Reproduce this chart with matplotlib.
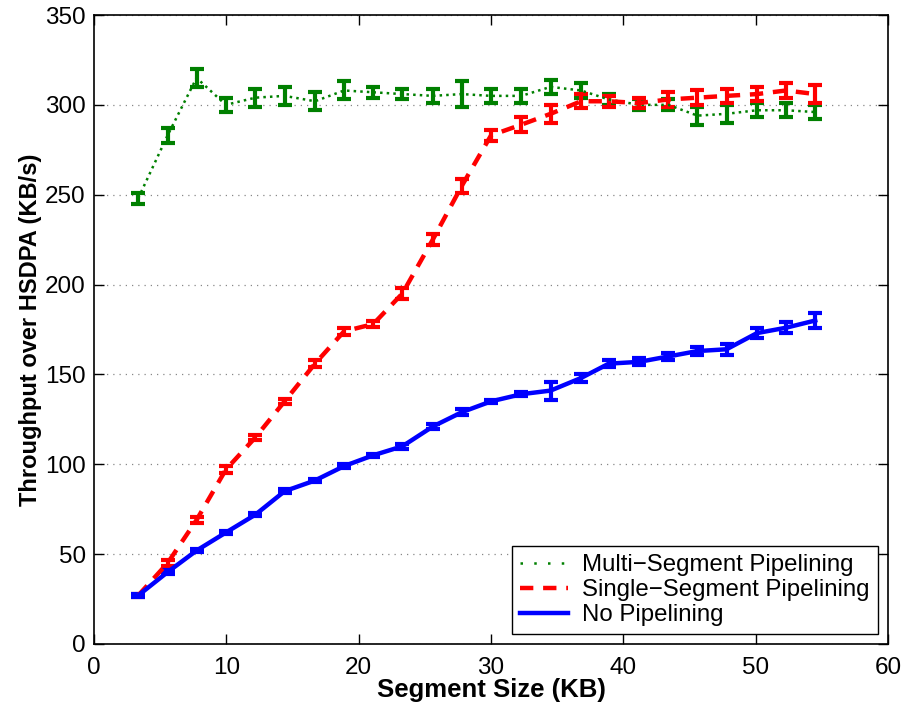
import matplotlib
matplotlib.use("Agg")
import matplotlib.pyplot as plt
from matplotlib.lines import Line2D

plt.rcParams['font.family'] = ['Liberation Sans', 'DejaVu Sans']

segment_kb = [3.34, 5.56, 7.75, 9.96, 12.2, 14.4, 16.7, 18.9, 21.1, 23.3, 25.6, 27.8,
              30.0, 32.3, 34.5, 36.8, 38.9, 41.2, 43.4, 45.6, 47.8, 50.1, 52.3, 54.5]

multi_vals = [248, 283, 315, 300, 304, 305, 302, 308, 307, 306, 305, 306,
              305, 305, 310, 308, 303, 300, 300, 294, 295, 297, 297, 296]
multi_err = [3, 4, 5, 4, 5, 5, 5, 5, 3, 3, 4, 7,
             4, 4, 4, 4, 3, 3, 3, 5, 5, 4, 4, 4]

single_vals = [27, 45, 69, 97, 115, 135, 156, 174, 178, 195, 225, 255,
               283, 289, 295, 302, 302, 301, 303, 304, 305, 306, 308, 306]
single_err = [1, 1.5, 1.5, 2, 1.5, 1.5, 2, 2, 1.5, 3, 3, 4,
              3, 4, 5, 4, 3, 3, 4, 4, 4, 4, 4, 5]

none_vals = [27, 40, 52, 62, 72, 85, 91, 99, 105, 110, 121, 129,
             135, 139, 141, 148, 156, 157, 160, 163, 164, 173, 176, 180]
none_err = [1, 1, 1, 1, 1, 1, 1, 1, 1, 1.5, 1.5, 1.5,
            1, 1, 5, 2, 2, 2, 2, 2, 3, 3, 3, 4]

labels = ['Multi\u2212Segment Pipelining', 'Single\u2212Segment Pipelining', 'No Pipelining']

fig = plt.figure(figsize=(9.07, 7.13), dpi=100)
ax = fig.add_axes([94/907, 1-644/713, 794/907, 629/713])

green, red, blue = '#008000', '#ff0000', '#0000ff'
ax.errorbar(segment_kb, multi_vals, yerr=multi_err, color=green, ls=':', lw=1.8,
            elinewidth=3, capsize=5, capthick=3)
ax.errorbar(segment_kb, single_vals, yerr=single_err, color=red, ls='--', lw=3.2,
            dashes=(3, 2.2), elinewidth=3, capsize=5, capthick=3)
ax.errorbar(segment_kb, none_vals, yerr=none_err, color=blue, ls='-', lw=3.2,
            elinewidth=3, capsize=5, capthick=3)

ax.set_xlim(0, 60)
ax.set_ylim(0, 350)
ax.set_xticks(range(0, 61, 10))
ax.set_yticks(range(0, 351, 50))
ax.yaxis.grid(True, linestyle=(0, (1, 4)), color='#888888', lw=0.9)
ax.set_axisbelow(True)
ax.tick_params(direction='in', length=7, width=1, labelsize=17.5, top=True, right=True)
ax.tick_params(axis='x', pad=9)
ax.tick_params(axis='y', pad=6)
for s in ax.spines.values():
    s.set_linewidth(1.2)

ax.set_xlabel('Segment Size (KB)', fontsize=18.5, fontweight='bold', labelpad=0)
ax.set_ylabel('Throughput over HSDPA (KB/s)', fontsize=17, fontweight='bold', labelpad=2)

handles = [Line2D([], [], color=green, ls=':', lw=1.8, dashes=(1, 4.5)),
           Line2D([], [], color=red, ls='--', lw=3.2, dashes=(3, 2.2)),
           Line2D([], [], color=blue, ls='-', lw=3.2)]
leg = ax.legend(handles, labels, loc='lower right', fontsize=17.3, frameon=True, fancybox=False,
                edgecolor='black', framealpha=1, borderpad=0.35, labelspacing=0.12,
                handlelength=2.0, handletextpad=0.6, borderaxespad=0.4)
leg.get_frame().set_linewidth(1.0)

fig.savefig('out.png', dpi=100)
